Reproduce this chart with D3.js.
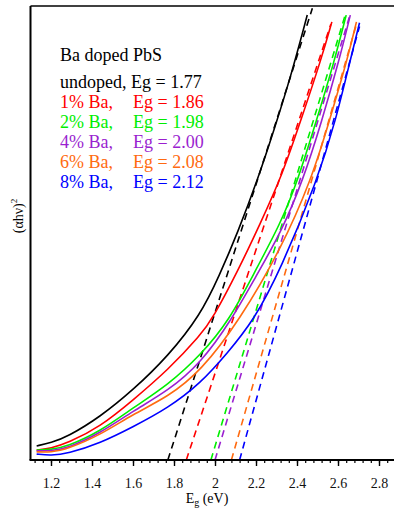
<!DOCTYPE html>
<html>
<head>
<meta charset="utf-8">
<script src="https://cdn.jsdelivr.net/npm/d3@7"></script>
<style>
    body { margin: 0; background: #fff; }
    svg { display: block; }
    svg text { font-family: 'Liberation Serif', 'Times New Roman', Times, serif; }
</style>
</head>
<body>
<div class="graphContainer"></div>
<script>
// Tick values on the energy axis
const majorTicks = [1.2, 1.4, 1.6, 1.8, 2.0, 2.2, 2.4, 2.6, 2.8];
const minorTicks = d3.range(1.12, 2.9, 0.04).map(d => +d.toFixed(2));

// Samples, band gaps from the linear fits
const samples = ['undoped', '1% Ba', '2% Ba', '4% Ba', '6% Ba', '8% Ba'];
const bandGaps = [1.77, 1.86, 1.98, 2.00, 2.08, 2.12];

// Tauc curves, [E (eV), (αhν)² in arbitrary units]
const undoped = [[1.13, 3.1], [1.2, 3.8], [1.28, 5.1], [1.44, 9.5], [1.6, 15.4], [1.77, 22.8], [1.93, 32], [2.02, 40.5], [2.11, 50], [2.21, 62], [2.29, 73], [2.37, 84.5], [2.45, 98]];
const ba1 = [[1.13, 2.2], [1.2, 2.6], [1.28, 3.7], [1.44, 7.3], [1.6, 13.2], [1.77, 19.8], [1.93, 27.5], [1.99, 31.3], [2.11, 41.5], [2.22, 52], [2.33, 63], [2.42, 75], [2.52, 88.5], [2.57, 96.5]];
const ba2 = [[1.13, 2.2], [1.2, 2.3], [1.28, 3.0], [1.44, 6.3], [1.6, 11.5], [1.77, 16.5], [1.93, 23.1], [2.07, 30.8], [2.19, 41.1], [2.32, 52.1], [2.405, 61.7], [2.5, 75.5], [2.58, 87.5], [2.64, 98]];
const ba4 = [[1.13, 2.0], [1.2, 2.0], [1.28, 2.6], [1.44, 5.9], [1.6, 10.8], [1.77, 15.2], [1.93, 21.3], [2.08, 30.8], [2.2, 40.5], [2.32, 49.9], [2.43, 61.7], [2.52, 74.5], [2.606, 88.1], [2.66, 98]];
const ba6 = [[1.13, 1.8], [1.2, 1.7], [1.28, 2.4], [1.44, 5.5], [1.6, 10.1], [1.77, 13.9], [1.93, 19.5], [2.12, 30.8], [2.32, 46.3], [2.47, 61.7], [2.56, 75], [2.645, 88.1], [2.69, 96.5]];
const ba8 = [[1.13, 1.3], [1.2, 1.0], [1.28, 1.4], [1.44, 3.7], [1.6, 7.3], [1.77, 11.4], [1.93, 16.9], [2.06, 23.5], [2.19, 30.8], [2.32, 41.9], [2.5, 61.7], [2.59, 75], [2.66, 88.1], [2.705, 96.3]];
const curves = [undoped, ba1, ba2, ba4, ba6, ba8];

// Upper end of each linear fit (the lower end sits at the band gap)
const fitEnds = [[2.475, 99.5], [2.565, 96], [2.635, 98], [2.655, 97.5], [2.69, 96], [2.705, 95.5]];

const colors = ['#000000', '#ff0000', '#00ee00', '#9a1fd0', '#ff6a10', '#0000ff'];

const serif = "'Liberation Serif', 'Times New Roman', Times, serif";

const renderChart = () => {
    const W = 394, H = 509;
    const left = 30.5, top = 6, bottom = 460;

    const svg = d3.select('.graphContainer')
        .append('svg')
        .attr('width', W)
        .attr('height', H)
        .attr('font-family', serif);

    const x = d3.scaleLinear().domain([1.1, 2.9]).range([left, 399.5]);
    const y = d3.scaleLinear().domain([0, 100]).range([bottom, top]);

    svg.append('defs').append('clipPath').attr('id', 'plotClip')
        .append('rect')
        .attr('x', left).attr('y', top)
        .attr('width', W - left).attr('height', bottom - top);

    const plot = svg.append('g').attr('clip-path', 'url(#plotClip)');

    // Linear fits
    plot.selectAll('.fit')
        .data(bandGaps)
        .enter()
        .append('line')
        .attr('x1', d => x(d))
        .attr('y1', y(0))
        .attr('x2', (d, i) => x(fitEnds[i][0]))
        .attr('y2', (d, i) => y(fitEnds[i][1]))
        .attr('stroke', (d, i) => colors[i])
        .attr('stroke-width', 1.6)
        .attr('stroke-dasharray', '7,5');

    // Measured curves
    const line = d3.line()
        .x(d => x(d[0]))
        .y(d => y(d[1]))
        .curve(d3.curveBasis);

    plot.selectAll('.curve')
        .data(curves)
        .enter()
        .append('path')
        .attr('fill', 'none')
        .attr('stroke', (d, i) => colors[i])
        .attr('stroke-width', 1.6)
        .attr('d', line);

    // Frame
    svg.append('line')
        .attr('x1', left).attr('y1', top).attr('x2', W).attr('y2', top)
        .attr('stroke', '#000').attr('stroke-width', 1.5);
    svg.append('line')
        .attr('x1', left).attr('y1', top).attr('x2', left).attr('y2', bottom)
        .attr('stroke', '#000').attr('stroke-width', 2);

    // Minor ticks
    svg.append('g')
        .attr('transform', `translate(0,${bottom})`)
        .call(d3.axisBottom(x).tickValues(minorTicks).tickSize(3).tickFormat(''))
        .call(g => g.select('.domain').remove())
        .call(g => g.selectAll('line').attr('stroke-width', 1.2));

    // Major ticks and labels
    const xAxis = svg.append('g')
        .attr('transform', `translate(0,${bottom})`)
        .call(d3.axisBottom(x).tickValues(majorTicks).tickSize(6).tickPadding(12).tickFormat(d3.format('~g')));
    xAxis.attr('font-family', serif);
    xAxis.select('.domain').remove();
    xAxis.selectAll('line').attr('stroke-width', 1.4);
    xAxis.selectAll('text')
        .style('font-family', serif)
        .attr('font-size', 14)
        .attr('fill', '#111');

    svg.append('line')
        .attr('x1', left - 1).attr('y1', bottom).attr('x2', W).attr('y2', bottom)
        .attr('stroke', '#000').attr('stroke-width', 2.2);

    // Axis titles
    const xTitle = svg.append('text')
        .attr('x', 207).attr('y', 503)
        .attr('text-anchor', 'middle')
        .style('font-family', serif)
        .attr('font-size', 14);
    xTitle.append('tspan').text('E');
    xTitle.append('tspan').attr('font-size', 10).attr('dy', 3).text('g');
    xTitle.append('tspan').attr('dy', -3).text(' (eV)');

    const yTitle = svg.append('text')
        .attr('transform', 'translate(23,216) rotate(-90)')
        .attr('text-anchor', 'middle')
        .style('font-family', serif)
        .attr('font-size', 14);
    yTitle.append('tspan').text('(αhν)');
    yTitle.append('tspan').attr('font-size', 9).attr('dy', -6).text('2');

    // Legend
    const legend = svg.append('g').attr('font-size', 18);
    legend.append('text')
        .attr('x', 60).attr('y', 61)
        .style('font-family', serif)
        .attr('fill', '#000')
        .text('Ba doped PbS');

    samples.forEach((s, i) => {
        const yy = 88 + i * 20;
        if (i === 0) {
            legend.append('text')
                .attr('x', 60).attr('y', yy)
                .style('font-family', serif)
                .attr('fill', colors[i])
                .text(`${s}, Eg = ${bandGaps[i].toFixed(2)}`);
        } else {
            legend.append('text')
                .attr('x', 60).attr('y', yy)
                .style('font-family', serif)
                .attr('fill', colors[i])
                .text(`${s},`);
            legend.append('text')
                .attr('x', 133).attr('y', yy)
                .style('font-family', serif)
                .attr('fill', colors[i])
                .text(`Eg = ${bandGaps[i].toFixed(2)}`);
        }
    });
};

renderChart();
</script>
</body>
</html>
